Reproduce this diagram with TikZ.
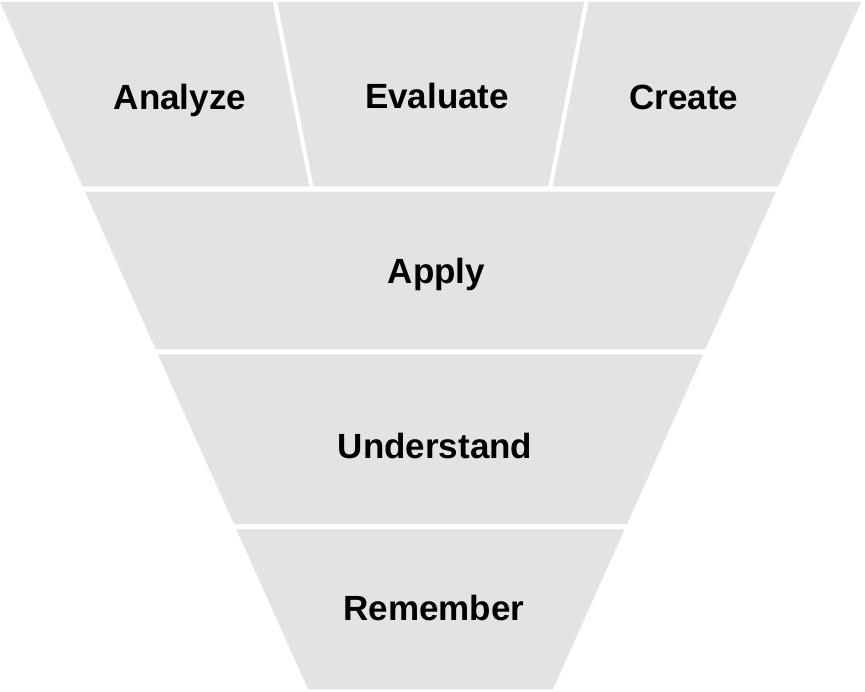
\documentclass[tikz,border=0pt]{standalone}
\usepackage{fontspec}
\setmainfont{Liberation Sans}
\definecolor{bandgray}{RGB}{226,227,229}
\begin{document}
\begin{tikzpicture}[x=1pt,y=-1pt,
  band/.style={fill=bandgray,draw=none},
  lbl/.style={anchor=base,inner sep=0pt,font=\fontsize{35}{40}\selectfont\bfseries,text=black}]
\useasboundingbox (0,0) rectangle (865,692);
% top row
\fill[band] (0,2) -- (272.7,2) -- (309.3,186.5) -- (82.7,186.5) -- cycle;
\fill[band] (277.3,2) -- (584.2,2) -- (548.3,186.5) -- (313.5,186.5) -- cycle;
\fill[band] (588.6,2) -- (861,2) -- (778.3,186.5) -- (552.7,186.5) -- cycle;
% lower bands
\fill[band] (85.0,191.7) -- (776.0,191.7) -- (705.3,349.3) -- (155.7,349.3) -- cycle;
\fill[band] (157.9,354.3) -- (703.1,354.3) -- (627.1,524) -- (233.9,524) -- cycle;
\fill[band] (236.4,529.3) -- (624.6,529.3) -- (552.9,689.3) -- (308.1,689.3) -- cycle;
% labels
\node[lbl] (analyze) at (180,110) {Analyze};
\node[lbl] (evaluate) at (437,109) {Evaluate};
\node[lbl] (create) at (684,110) {Create};
\node[lbl] (apply) at (436.5,284) {Apply};
\node[lbl] (understand) at (435,459) {Understand};
\node[lbl] (remember) at (434,620) {Remember};
\end{tikzpicture}
\end{document}
